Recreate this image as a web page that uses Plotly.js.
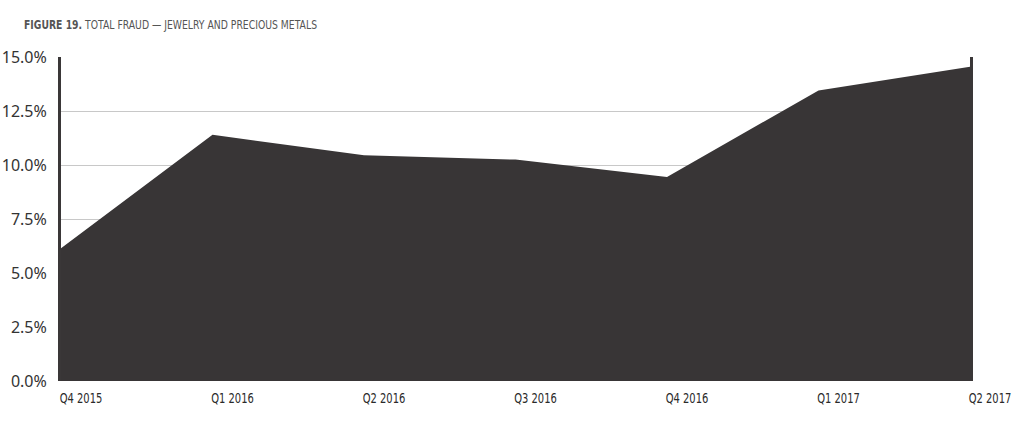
<!DOCTYPE html>
<html>
<head>
<meta charset="utf-8">
<script src="https://cdn.plot.ly/plotly-3.0.1.min.js"></script>
<style>
html,body{margin:0;padding:0;background:#fff;}
#chart{width:1024px;height:423px;}
</style>
</head>
<body>
<div id="chart"></div>
<script>
const quarters = ["Q4 2015","Q1 2016","Q2 2016","Q3 2016","Q4 2016","Q1 2017","Q2 2017"];
const fraudPct = [6.15, 11.4, 10.45, 10.25, 9.45, 13.45, 14.55];
const yTicks = [0, 2.5, 5, 7.5, 10, 12.5, 15];
const yTickLabels = ["0.0%", "2.5%", "5.0%", "7.5%", "10.0%", "12.5%", "15.0%"];
const titleText = "<b>FIGURE 19.</b> TOTAL FRAUD — JEWELRY AND PRECIOUS METALS";

const narrow = "DejaVu Sans, sans-serif";

const trace = {
  x: quarters,
  y: fraudPct,
  type: "scatter",
  mode: "lines",
  fill: "tozeroy",
  fillcolor: "#383536",
  line: {width: 0, color: "#383536"},
  hoverinfo: "x+y"
};

const layout = {
  width: 1024,
  height: 423,
  margin: {l: 61, r: 54, t: 57, b: 42},
  paper_bgcolor: "#ffffff",
  plot_bgcolor: "#ffffff",
  showlegend: false,
  annotations: [{
    text: titleText,
    xref: "paper", yref: "paper",
    x: -0.054, y: 1.099,
    xanchor: "left", yanchor: "middle",
    showarrow: false,
    font: {family: narrow, size: 12, color: "#555555"}
  }],
  xaxis: {
    type: "category",
    range: [0, 6],
    showgrid: false,
    zeroline: false,
    showline: false,
    ticks: "",
    ticklabelshift: 20,
    ticklabelstandoff: 7,
    tickfont: {family: narrow, size: 14, color: "#2a2a2a"},
    fixedrange: true
  },
  yaxis: {
    range: [0, 15],
    tickmode: "array",
    tickvals: yTicks,
    ticktext: yTickLabels,
    showgrid: true,
    gridcolor: "#c8c8c8",
    gridwidth: 1,
    zeroline: false,
    showline: true,
    mirror: true,
    linecolor: "#3a3738",
    linewidth: 3,
    ticks: "",
    ticklabelstandoff: 8,
    tickfont: {family: "Noto Sans, Open Sans, sans-serif", size: 16, color: "#333333"},
    fixedrange: true
  }
};

function condense(el, factor) {
  const w = el.getComputedTextLength();
  if (w > 0) {
    el.setAttribute("textLength", (w * factor).toFixed(1));
    el.setAttribute("lengthAdjust", "spacingAndGlyphs");
  }
}

Plotly.newPlot("chart", [trace], layout, {displayModeBar: false, staticPlot: true}).then(function (gd) {
  gd.querySelectorAll(".xtick text").forEach(function (t) { condense(t, 0.71); });
  gd.querySelectorAll(".annotation-text").forEach(function (t) {
    const b0 = t.getBBox();
    if (b0.width > 0) {
      condense(t, 293 / b0.width);
      const b1 = t.getBBox();
      const dx = 12 - b1.x;
      const prev = t.getAttribute("transform") || "";
      t.setAttribute("transform", prev + " translate(" + dx.toFixed(1) + ",0)");
    }
  });
});
</script>
</body>
</html>
